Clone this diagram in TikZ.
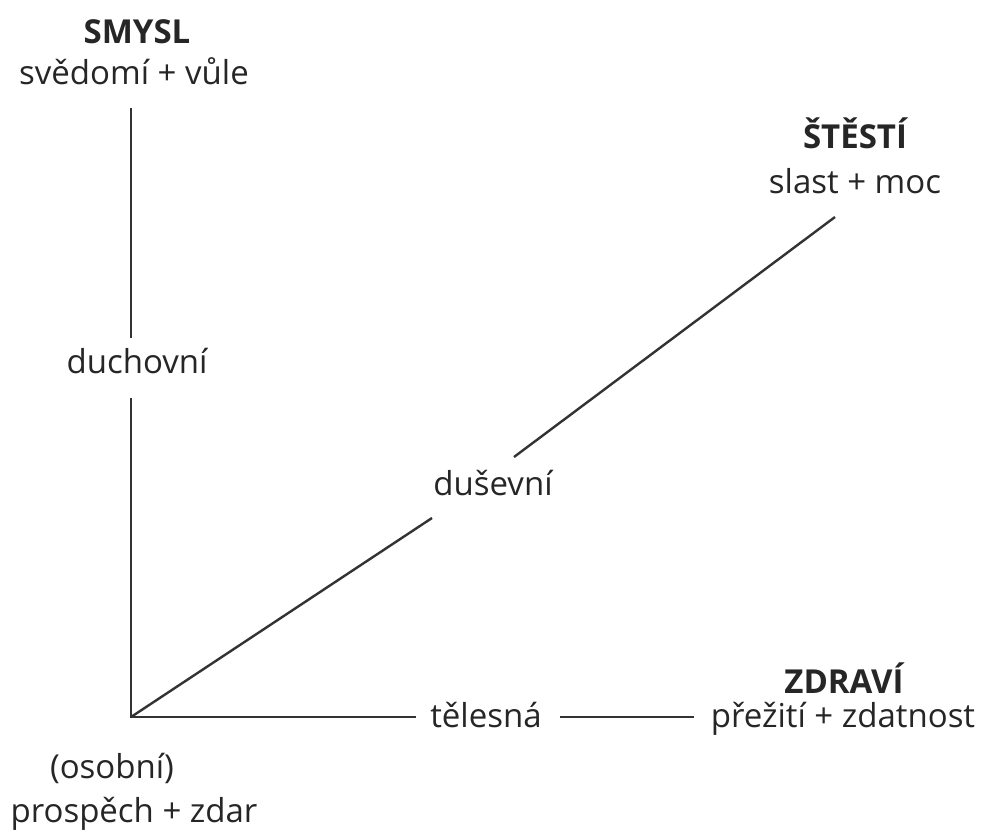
\documentclass[tikz,border=0pt]{standalone}
\usepackage{fontspec}
\setmainfont{Open Sans}
\begin{document}
\begin{tikzpicture}[x=1pt,y=-1pt,
  lbl/.style={font=\fontsize{33}{36}\selectfont, inner sep=0pt, text=black!85, anchor=base},
  head/.style={font=\fontsize{33}{36}\selectfont\bfseries, inner sep=0pt, text=black!85, anchor=base},
  axis/.style={line width=2.4pt, draw=black!80}]
\useasboundingbox (0,0) rectangle (990,835);
\fill[white] (0,0) rectangle (990,835);
% labels
\node[head] (smysl) at (137,43) {SMYSL};
\node[lbl] (smysl2) at (134,84) {svědomí + vůle};
\node[head] (stesti) at (855,148) {ŠTĚSTÍ};
\node[lbl] (stesti2) at (855,193) {slast + moc};
\node[head] (zdravi) at (844,693) {ZDRAVÍ};
\node[lbl] (zdravi2) at (843,727) {přežití + zdatnost};
\node[lbl] (osobni) at (112,778) {(osobní)};
\node[lbl] (osobni2) at (134,822) {prospěch + zdar};
\node[lbl] (duch) at (137,373) {duchovní};
\node[lbl] (dus) at (493,495) {duševní};
\node[lbl] (tel) at (486,727) {tělesná};
% line ends
\coordinate (O) at (131,717);
\coordinate (vtop) at (131,108);
\coordinate (v1) at (131,338);
\coordinate (v2) at (131,398);
\coordinate (h1) at (416,717);
\coordinate (h2) at (560,717);
\coordinate (h3) at (694,717);
\coordinate (d1) at (432,518);
\coordinate (d2) at (514,457);
\coordinate (d3) at (835,217);
% axes
\draw[axis] (vtop) -- (v1);
\draw[axis] (v2) -- (O) -- (h1);
\draw[axis] (h2) -- (h3);
\draw[axis] (O) -- (d1);
\draw[axis] (d2) -- (d3);
\end{tikzpicture}
\end{document}
